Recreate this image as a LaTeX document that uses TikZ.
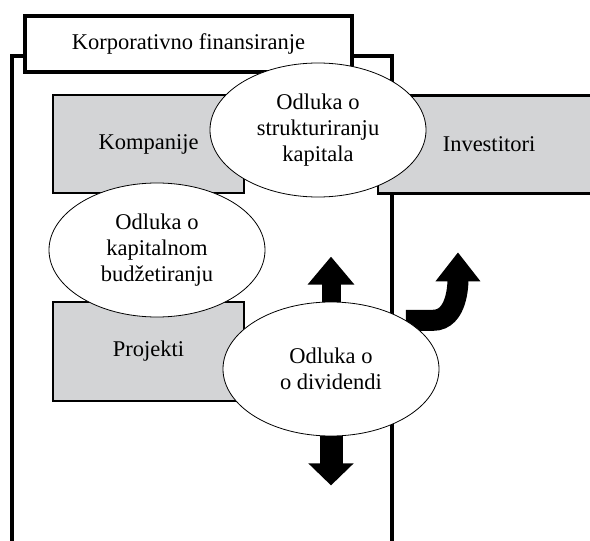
\documentclass[tikz,border=0pt]{standalone}
\usepackage{fontspec}
\setmainfont{Liberation Serif}
\usetikzlibrary{arrows.meta,shapes.geometric,backgrounds}
\definecolor{boxgray}{RGB}{211,212,214}
\tikzset{
  frame/.style={line width=4pt},
  unit/.style={draw,fill=boxgray,line width=2.5pt,
    minimum width=191pt,minimum height=98pt,inner sep=0pt},
  decision/.style={ellipse,draw,fill=white,line width=0.8pt,
    minimum width=216pt,minimum height=134pt,inner sep=0pt,align=center},
  blockarrow/.style={line width=20pt,-{Triangle[length=28pt,width=45pt]}}
}

\begin{document}
\begin{tikzpicture}[x=1pt,y=-1pt,font=\fontsize{22.5}{26}\selectfont]
\useasboundingbox (0,0) rectangle (590,541);
\draw[frame] (12,545) |- (392,56) -- (392,545);
\node[draw,fill=white,line width=4pt,minimum width=327pt,
  minimum height=56pt] (title) at (188.5,44) {Korporativno finansiranje};
\node[unit] (komp) at (148.5,144) {Kompanije};
\node[unit,minimum height=99pt] (proj) at (148.5,351.5) {Projekti};
\node[unit,minimum width=222pt] (inv) at (489,144.5) {Investitori};
\node[decision] (struk) at (318,130) {Odluka o\\strukturiranju\\kapitala};
\node[decision] (budz) at (157,250) {Odluka o\\kapitalnom\\budžetiranju};
\node[decision] (div) at (331,369) {Odluka o\\o dividendi};
\begin{scope}[on background layer]
\draw[blockarrow,line width=19pt] (div.north) -- ++(0,-45);
\draw[blockarrow,line width=23pt,-{Triangle[length=22pt,width=44pt]}]
  (div.south) -- ++(0,49);
\draw[blockarrow,line width=21pt,-{Triangle[length=29pt,width=43pt]}]
  (div.33) -- ++(27,0) .. controls +(25,0) and +(0,30) .. ++(25,-68);
\end{scope}
\end{tikzpicture}
\end{document}
